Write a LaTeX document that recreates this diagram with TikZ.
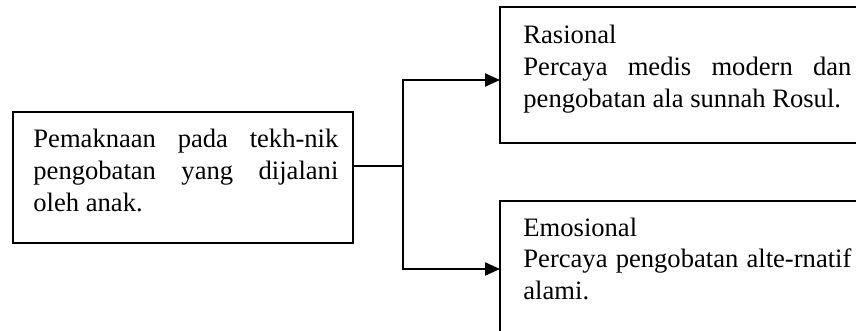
\documentclass[tikz,border=0pt]{standalone}
\usepackage{fontspec}
\setmainfont{Liberation Serif}
\usetikzlibrary{arrows.meta}

\hyphenpenalty=10000
\exhyphenpenalty=10000

\tikzset{
	kotak/.style={draw, line width=1pt, anchor=north west, inner sep=0pt, outer sep=0pt},
	isi/.style={anchor=base west, align=justify, inner sep=0pt, font=\fontsize{13.3pt}{16pt}\selectfont},
	garis/.style={line width=1pt},
	panah/.style={line width=1pt, -{Triangle[length=7.5pt, width=6.5pt]}}
}

\begin{document}
\begin{tikzpicture}[x=0.5pt, y=-0.5pt]
			%%%%% START %%%%%
			
			\useasboundingbox (0, 0) rectangle (856, 331);
			\clip (0, 0) rectangle (856, 331);
			
			\node[kotak, minimum width=170pt, minimum height=65.5pt] (pemaknaan) at (13, 112) {};
			\node[isi, text width=152.5pt] (teks pemaknaan) at ([shift={(20, 36)}]pemaknaan.north west) {Pemaknaan pada tekh-nik pengobatan yang dijalani oleh anak.};
			
			\node[kotak, minimum width=185pt, minimum height=68pt] (rasional) at (500, 7) {};
			\node[isi, text width=164pt] (teks rasional) at ([shift={(23, 37)}]rasional.north west) {Rasional\\Percaya medis modern dan pengobatan ala sunnah Rosul.};
			
			\node[kotak, minimum width=185pt, minimum height=68pt] (emosional) at (500, 201) {};
			\node[isi, text width=164pt] (teks emosional) at ([shift={(23, 35)}]emosional.north west) {Emosional\\Percaya pengobatan alte-rnatif alami.};
			
			\coordinate (cabang) at (403, 166);
			\draw[garis] (pemaknaan.east |- cabang) -- (cabang);
			\draw[panah] (cabang) |- ([yshift=-2.5pt]rasional.west);
			\draw[panah] (cabang) |- (emosional.west);
			
			%%%%% END %%%%%
\end{tikzpicture}
\end{document}
